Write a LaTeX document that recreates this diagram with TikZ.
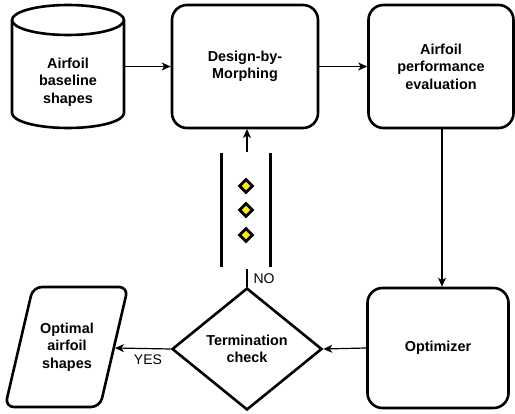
\documentclass[tikz,border=0pt]{standalone}
\usepackage{fontspec}
\setmainfont{Liberation Sans}
\usetikzlibrary{arrows.meta,shapes.geometric}
\begin{document}
\begin{tikzpicture}[x=1pt,y=-1pt,
  txt/.style={font=\fontsize{14.4}{17.5}\selectfont\bfseries, align=center},
  lbl/.style={font=\fontsize{14}{16}\selectfont},
  boxx/.style={txt, draw, line width=2.6pt, rounded corners=15pt, inner sep=0pt},
  outline/.style={line width=2.6pt, line join=round},
  conn/.style={line width=1.2pt, -{Stealth[length=9pt,width=8pt,inset=2.5pt]}},
  plainconn/.style={line width=1.2pt},
  bar/.style={line width=3pt},
  dot/.style={shape=diamond, draw, fill=yellow, line width=2.8pt, minimum size=14pt, inner sep=0pt}]
\useasboundingbox (0,0) rectangle (515,414);
% cylinder
\draw[outline] (68,20) ellipse [x radius=56, y radius=15];
\draw[outline] (12,20) -- (12,113) arc[start angle=180, end angle=0, x radius=56, y radius=15] -- (124,20);
\node[txt, minimum width=112pt, minimum height=123pt, inner sep=0pt] (cyl) at (68,82) {Airfoil\\baseline\\shapes};
% boxes
\node[boxx, minimum width=146pt, minimum height=123pt] (dbm) at (245,66.5) {Design-by-\\Morphing};
\node[boxx, minimum width=145pt, minimum height=123pt] (ape) at (441,66.5) {Airfoil\\performance\\evaluation};
\node[boxx, minimum width=141pt, minimum height=120pt] (opt) at (438,348) {Optimizer};
% diamond
\node[txt, shape=diamond, draw, line width=2.6pt, line join=miter, inner sep=0pt, minimum width=150pt, minimum height=122pt, aspect=1.23] (term) at (247,349) {Termination\\check};
% parallelogram
\draw[outline, rounded corners=9pt] (33,287) -- (128,287) -- (100,407) -- (5,407) -- cycle;
\node[txt] (outp) at (67,347) {Optimal\\airfoil\\shapes};
\coordinate (outR) at (115,348);
% connectors
\draw[conn] (cyl.east |- dbm.west) -- (dbm.west);
\draw[conn] (dbm.east) -- (ape.west);
\draw[conn] (ape.south -| 442,0) -- (opt.north -| 442,0);
\draw[conn] (opt.west) -- (term.east);
\draw[conn] (term.west) -- (outR);
\node[lbl] (yes) at (148,360) {YES};
\coordinate (noend) at (247,269);
\draw[plainconn] (term.north) -- (noend);
\node[lbl, anchor=west] (no) at (250,279) {NO};
\coordinate (upstart) at (247,152);
\draw[conn] (upstart) -- (247,129);
% ellipsis section
\coordinate (bl1) at (221,153); \coordinate (bl2) at (221,267);
\coordinate (br1) at (270,153); \coordinate (br2) at (270,267);
\draw[bar] (bl1) -- (bl2);
\draw[bar] (br1) -- (br2);
\node[dot] (d1) at (246,186) {};
\node[dot] (d2) at (246,210) {};
\node[dot] (d3) at (246,235) {};
\end{tikzpicture}
\end{document}
